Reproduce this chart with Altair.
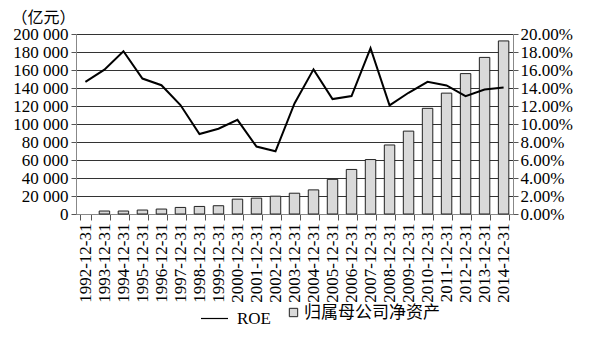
import altair as alt
import pandas as pd

years = list(range(1992, 2015))
labels = [f"{y}-12-31" for y in years]
equity = [None, 3300, 3300, 4400, 5500, 7300, 8400, 9200, 16500, 17600, 19800, 23100,
          26800, 38500, 49500, 60500, 76700, 92100, 117400, 134300, 156000, 174000, 192300]
roe = [0.1468, 0.1604, 0.1809, 0.1505, 0.1431, 0.1211, 0.0888, 0.0947, 0.1046, 0.0749,
       0.0697, 0.1229, 0.1607, 0.1277, 0.1310, 0.1842, 0.1207, 0.1347, 0.1468, 0.1428,
       0.1310, 0.1383, 0.1406]

df = pd.DataFrame({"date": labels, "equity": equity, "roe": roe,
                   "s1": "归属母公司净资产", "s2": "ROE"})

FONT = "'Liberation Serif', 'Times New Roman', 'Noto Sans CJK SC', serif"

x = alt.X("date:N", sort=labels, title=None,
          scale=alt.Scale(paddingInner=0.45, paddingOuter=0.22),
          axis=alt.Axis(labelAngle=-90, labelAlign="right", labelBaseline="middle",
                        labelFont=FONT, labelFontSize=17, labelColor="#000",
                        labelPadding=3, tickSize=6, tickColor="#555", tickBand="extent",
                        domainColor="#888", grid=False))

bars = alt.Chart(df).mark_bar(stroke="#222", strokeWidth=1).encode(
    x=x,
    y=alt.Y("equity:Q", title="（亿元）",
            scale=alt.Scale(domain=[0, 200000], nice=False),
            axis=alt.Axis(values=list(range(0, 200001, 20000)),
                          labelExpr="replace(format(datum.value, ','), ',', ' ')",
                          labelFont=FONT, labelFontSize=17, labelColor="#000",
                          labelPadding=3, tickSize=5, tickColor="#555",
                          domainColor="#888", grid=True, gridColor="#333",
                          titleAngle=0, titleAlign="left", titleBaseline="middle",
                          titleX=-65, titleY=-17, titleFont=FONT, titleFontSize=16,
                          titleFontWeight="normal", titleColor="#000")),
    fill=alt.Fill("s1:N", scale=alt.Scale(range=["#d9d9d9"]), title=None,
                  legend=alt.Legend(orient="none", legendX=209, legendY=270,
                                    symbolType="square", symbolSize=70,
                                    symbolStrokeColor="#222", symbolStrokeWidth=1,
                                    labelFont=FONT, labelFontSize=17, labelColor="#000",
                                    labelOffset=2))
)

line = alt.Chart(df).mark_line(color="#000", strokeWidth=2).encode(
    x=x,
    y=alt.Y("roe:Q", title=None,
            scale=alt.Scale(domain=[0, 0.2], nice=False),
            axis=alt.Axis(orient="right", format=".2%", values=[i / 50 for i in range(11)],
                          labelFont=FONT, labelFontSize=17, labelColor="#000",
                          labelPadding=2, tickSize=5, tickColor="#555",
                          domainColor="#888", grid=False)),
    stroke=alt.Stroke("s2:N", scale=alt.Scale(range=["#000"]), title=None,
                      legend=alt.Legend(orient="none", legendX=124, legendY=270,
                                        symbolType="stroke", symbolSize=729,
                                        symbolStrokeWidth=1.2,
                                        labelFont=FONT, labelFontSize=17, labelColor="#000",
                                        labelOffset=8))
)

chart = alt.layer(bars, line).resolve_scale(y="independent", fill="independent", stroke="independent").properties(
    width=437, height=180,
    autosize=alt.AutoSizeParams(type="none"),
    padding={"left": 76, "top": 34, "right": 91, "bottom": 123},
    background="white"
).configure_view(stroke=None)

chart.save("out.html", embed_options={"renderer": "svg", "actions": False})
